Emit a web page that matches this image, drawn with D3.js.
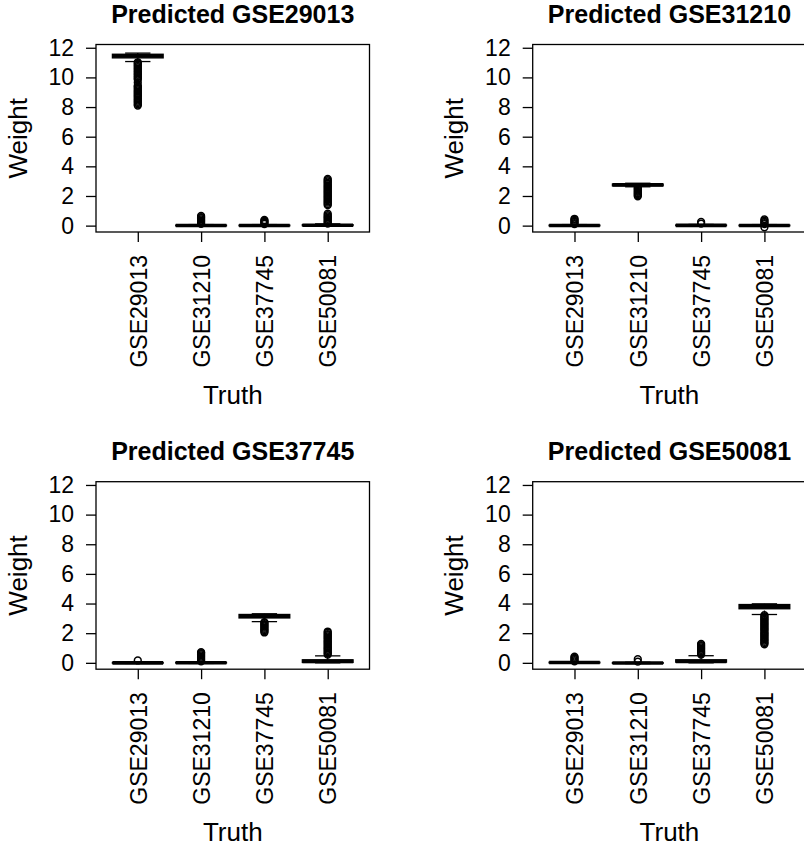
<!DOCTYPE html>
<html>
<head>
<meta charset="utf-8">
<title>Predicted weight by truth</title>
<script src="https://cdn.jsdelivr.net/npm/d3@7"></script>
<style>
  html, body { margin: 0; padding: 0; background: #fff; }
  svg { display: block; font-family: 'Liberation Sans', Arial, Helvetica, sans-serif; }
</style>
</head>
<body>
<div id="chart"></div>
<script>
const WIDTH = 804
const HEIGHT = 846
const INK = '#000000'

const truthGroups = ['GSE29013', 'GSE31210', 'GSE37745', 'GSE50081']
const predictedSets = ['GSE29013', 'GSE31210', 'GSE37745', 'GSE50081']
const yTicks = [0, 2, 4, 6, 8, 10, 12]

// five numbers per truth group: [lower whisker, q1, median, q3, upper whisker]
const statsGSE29013 = [
  [11.07, 11.32, 11.45, 11.56, 11.64],
  [-0.03, -0.01, 0.01, 0.03, 0.07],
  [-0.03, -0.01, 0.01, 0.03, 0.07],
  [-0.02, 0.0, 0.03, 0.06, 0.12],
]
const statsGSE31210 = [
  [-0.03, -0.01, 0.01, 0.03, 0.07],
  [2.62, 2.69, 2.75, 2.8, 2.86],
  [-0.02, 0.0, 0.02, 0.04, 0.08],
  [-0.04, -0.01, 0.01, 0.03, 0.07],
]
const statsGSE37745 = [
  [-0.04, -0.02, 0.0, 0.02, 0.05],
  [-0.04, -0.01, 0.01, 0.03, 0.07],
  [2.78, 3.03, 3.15, 3.26, 3.31],
  [0.0, 0.03, 0.1, 0.2, 0.47],
]
const statsGSE50081 = [
  [-0.02, 0.0, 0.02, 0.04, 0.08],
  [-0.05, -0.03, -0.01, 0.01, 0.04],
  [0.0, 0.05, 0.1, 0.2, 0.48],
  [3.26, 3.65, 3.8, 3.93, 3.98],
]

// outlying weights per truth group
const outliersGSE29013 = [
  [8.1, 8.18, 8.27, 8.35, 8.44, 8.52, 8.61, 8.7, 8.78, 8.87, 8.95, 9.04, 9.12, 9.21, 9.3, 9.38, 9.46,
    9.66, 9.86, 9.93, 10.02, 10.1, 10.19, 10.27, 10.36, 10.44, 10.53, 10.61, 10.7, 10.78, 10.87, 10.95, 11.02],
  [0.12, 0.19, 0.27, 0.34, 0.42, 0.5, 0.57, 0.65],
  [0.11, 0.18, 0.25, 0.32, 0.38],
  [0.14, 0.22, 0.3, 0.38, 0.46, 0.54, 0.62, 0.7, 0.8,
    1.38, 1.46, 1.55, 1.63, 1.72, 1.8, 1.88, 1.97, 2.05, 2.14, 2.22, 2.3, 2.39, 2.47, 2.56, 2.64, 2.72,
    2.81, 2.89, 2.98, 3.06, 3.15],
]
const outliersGSE31210 = [
  [0.1, 0.17, 0.25, 0.32, 0.4, 0.46],
  [1.98, 2.05, 2.13, 2.2, 2.28, 2.35, 2.43, 2.5, 2.58],
  [0.14, 0.25],
  [-0.11, 0.1, 0.17, 0.25, 0.33, 0.42],
]
const outliersGSE37745 = [
  [0.16],
  [0.1, 0.18, 0.26, 0.34, 0.42, 0.5, 0.58, 0.66, 0.72],
  [2.05, 2.13, 2.21, 2.29, 2.37, 2.45, 2.53, 2.61, 2.69, 2.75],
  [0.55, 0.63, 0.71, 0.8, 0.88, 0.96, 1.04, 1.12, 1.21, 1.29, 1.37, 1.45, 1.53, 1.62, 1.7, 1.78,
    1.86, 1.94, 2.03, 2.11],
]
const outliersGSE50081 = [
  [0.1, 0.18, 0.26, 0.34, 0.42],
  [0.08, 0.24],
  [0.56, 0.64, 0.72, 0.8, 0.88, 0.96, 1.04, 1.12, 1.2, 1.28],
  [1.25, 1.33, 1.41, 1.5, 1.58, 1.66, 1.74, 1.83, 1.91, 1.99, 2.07, 2.16, 2.24, 2.32, 2.4, 2.49,
    2.57, 2.65, 2.73, 2.82, 2.9, 2.98, 3.06, 3.14, 3.22],
]

const panelStats = [statsGSE29013, statsGSE31210, statsGSE37745, statsGSE50081]
const panelOutliers = [outliersGSE29013, outliersGSE31210, outliersGSE37745, outliersGSE50081]

// plot regions, 2 x 2
const PLOT_W = 273.5
const PLOT_H = 187.5
const PANELS = [
  { left: 96, top: 44.5 },
  { left: 532.7, top: 44.5 },
  { left: 96, top: 481.7 },
  { left: 532.7, top: 481.7 },
]

const svg = d3.select('#chart')
  .append('svg')
  .attr('width', WIDTH)
  .attr('height', HEIGHT)
  .attr('viewBox', `0 0 ${WIDTH} ${HEIGHT}`)

svg.append('rect').attr('width', WIDTH).attr('height', HEIGHT).attr('fill', '#fff')

function drawPanel(p, i) {
  const right = p.left + PLOT_W
  const bottom = p.top + PLOT_H
  const cx = p.left + PLOT_W / 2
  const cy = p.top + PLOT_H / 2

  const x = d3.scaleLinear().domain([0.34, 4.66]).range([p.left, right])
  const y = d3.scaleLinear().domain([-0.43, 12.22]).range([bottom, p.top])
  const unit = x(2) - x(1)

  const g = svg.append('g')

  // y axis
  g.append('g')
    .attr('transform', `translate(${p.left},0)`)
    .call(d3.axisLeft(y).tickValues(yTicks).tickSize(10).tickPadding(12).tickFormat(d3.format('d')))
    .call((axis) => axis.select('.domain').remove())
    .call((axis) => axis.selectAll('line').attr('stroke', INK).attr('stroke-width', 1.3))
    .call((axis) => axis.selectAll('text')
      .attr('fill', INK)
      .attr('font-size', 23)
      .attr('font-family', "'Liberation Sans', Arial, sans-serif"))

  // x axis, labels vertical
  g.append('g')
    .attr('transform', `translate(0,${bottom})`)
    .call(d3.axisBottom(x).tickValues([1, 2, 3, 4]).tickSize(10).tickFormat((d) => truthGroups[d - 1]))
    .call((axis) => axis.select('.domain').remove())
    .call((axis) => axis.selectAll('line').attr('stroke', INK).attr('stroke-width', 1.3))
    .call((axis) => axis.selectAll('text')
      .attr('fill', INK)
      .attr('font-size', 23)
      .attr('font-family', "'Liberation Sans', Arial, sans-serif")
      .attr('transform', 'rotate(-90)')
      .attr('text-anchor', 'end')
      .attr('x', -23)
      .attr('y', 0)
      .attr('dy', '0.36em'))

  // boxes
  const stats = panelStats[i]
  const outliers = panelOutliers[i]
  const half = 0.4 * unit
  const capHalf = 0.2 * unit

  stats.forEach((s, j) => {
    const bx = x(j + 1)
    const [lo, q1, med, q3, hi] = s
    const box = g.append('g')

    box.append('line')
      .attr('x1', bx).attr('x2', bx).attr('y1', y(lo)).attr('y2', y(q1))
      .attr('stroke', INK).attr('stroke-width', 1.3).attr('stroke-dasharray', '4,4')
    box.append('line')
      .attr('x1', bx).attr('x2', bx).attr('y1', y(q3)).attr('y2', y(hi))
      .attr('stroke', INK).attr('stroke-width', 1.3).attr('stroke-dasharray', '4,4')

    ;[lo, hi].forEach((v) => {
      box.append('line')
        .attr('x1', bx - capHalf).attr('x2', bx + capHalf)
        .attr('y1', y(v)).attr('y2', y(v))
        .attr('stroke', INK).attr('stroke-width', 1.3)
    })

    box.append('rect')
      .attr('x', bx - half)
      .attr('y', y(q3))
      .attr('width', 2 * half)
      .attr('height', Math.max(0.5, y(q1) - y(q3)))
      .attr('fill', '#fff')
      .attr('stroke', INK)
      .attr('stroke-width', 1.4)

    box.append('line')
      .attr('x1', bx - half).attr('x2', bx + half)
      .attr('y1', y(med)).attr('y2', y(med))
      .attr('stroke', INK).attr('stroke-width', 3.6)

    box.selectAll('circle')
      .data(outliers[j])
      .join('circle')
      .attr('cx', bx)
      .attr('cy', (d) => y(d))
      .attr('r', 3.4)
      .attr('fill', 'none')
      .attr('stroke', INK)
      .attr('stroke-width', 1.5)
  })

  // frame
  g.append('rect')
    .attr('x', p.left).attr('y', p.top)
    .attr('width', PLOT_W).attr('height', PLOT_H)
    .attr('fill', 'none').attr('stroke', INK).attr('stroke-width', 1.3)

  // titles
  g.append('text')
    .attr('x', cx).attr('y', p.top - 21.5)
    .attr('text-anchor', 'middle')
    .attr('font-size', 25).attr('font-weight', 'bold').attr('fill', INK)
    .text(`Predicted ${predictedSets[i]}`)

  g.append('text')
    .attr('x', cx).attr('y', bottom + 171.5)
    .attr('text-anchor', 'middle')
    .attr('font-size', 26).attr('fill', INK)
    .text('Truth')

  g.append('text')
    .attr('transform', `translate(${p.left - 69.5},${cy}) rotate(-90)`)
    .attr('text-anchor', 'middle')
    .attr('font-size', 26).attr('fill', INK)
    .text('Weight')
}

PANELS.forEach(drawPanel)
</script>
</body>
</html>
